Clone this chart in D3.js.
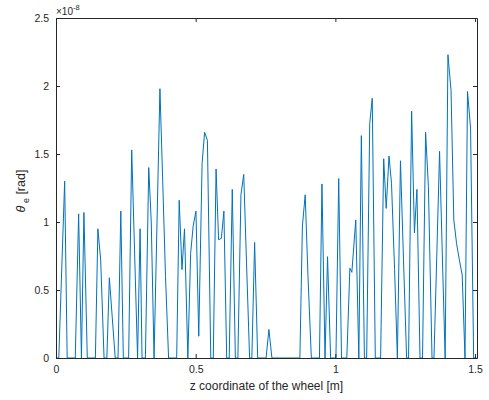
<!DOCTYPE html>
<html><head><meta charset="utf-8">
<script src="https://cdn.jsdelivr.net/npm/d3@7"></script>
<style>
html,body{margin:0;padding:0;background:#fff;}
text{font-family:"Liberation Sans",Arial,Helvetica,sans-serif;fill:#262626;}
</style></head>
<body><svg id="chart" width="489" height="400"></svg>
<script>
const zValues = [0,0.010,0.031,0.040,0.069,0.081,0.091,0.100,0.112,0.141,0.150,0.160,0.172,0.182,0.191,0.212,0.222,0.232,0.241,0.260,0.271,0.281,0.292,0.301,0.308,0.320,0.332,0.341,0.351,0.372,0.382,0.392,0.403,0.432,0.441,0.451,0.460,0.472,0.482,0.491,0.501,0.511,0.523,0.532,0.542,0.554,0.563,0.573,0.582,0.592,0.601,0.611,0.620,0.631,0.642,0.651,0.662,0.672,0.682,0.693,0.701,0.711,0.722,0.752,0.762,0.773,0.873,0.882,0.892,0.902,0.914,0.943,0.952,0.963,0.972,0.983,1.002,1.012,1.022,1.041,1.052,1.059,1.073,1.084,1.093,1.104,1.112,1.123,1.132,1.143,1.162,1.173,1.182,1.192,1.201,1.212,1.222,1.233,1.244,1.255,1.262,1.273,1.283,1.292,1.303,1.312,1.323,1.333,1.346,1.353,1.363,1.373,1.383,1.393,1.403,1.414,1.424,1.434,1.444,1.454,1.464,1.473,1.484,1.495,1.505];
// theta_e in units of 1e-8 rad
const thetaValues = [0,0,1.30,0,0,1.06,0,1.07,0,0,0.95,0.72,0,0,0.59,0,0,1.08,0,0,1.53,0.80,0,0.95,0,0,1.40,1.00,0,1.98,1.30,0.60,0,0,1.16,0.65,0.95,0,0.77,0.97,1.08,0.16,1.43,1.66,1.60,0,0,1.39,0.87,0.88,1.08,0,0,1.24,0,0,1.20,1.35,0.70,0,0,0.85,0,0,0.21,0,0,0.97,1.20,0.60,0,0,1.28,0,0.745,0,0,1.32,0,0,0.66,0.63,1.015,0,1.635,0,0,1.725,1.91,0,0,1.465,1.10,1.485,1.285,0.65,0,1.45,0.72,0,0,1.815,0.92,1.24,0,0,1.66,1.26,0,0,0.75,1.52,0.75,0,2.23,1.97,1.015,0.84,0.72,0.61,0,1.96,1.69,0,0];
const xTicks = [0,0.5,1,1.5];
const xTickLabels = ["0","0.5","1","1.5"];
const yTicks = [0,0.5,1,1.5,2,2.5];
const yTickLabels = ["0","0.5","1","1.5","2","2.5"];

const svg = d3.select("#chart");
const L=56, R=477, T=18, B=358;
const x = d3.scaleLinear().domain([0,1.507]).range([L,R]);
const y = d3.scaleLinear().domain([0,2.5]).range([B,T]);
const axCol = "#262626";

const data = zValues.map((z,i)=>[z,thetaValues[i]]);

// line
svg.append("path").datum(data)
  .attr("fill","none").attr("stroke","#0072BD").attr("stroke-width",1)
  .attr("stroke-linejoin","round")
  .attr("d", d3.line().x(d=>x(d[0])).y(d=>y(d[1])));

// axes
const fmtX = (d,i)=>xTickLabels[i];
const fmtY = (d,i)=>yTickLabels[i];
const gx = svg.append("g").attr("transform",`translate(0,${B})`)
  .call(d3.axisBottom(x).tickValues(xTicks).tickFormat(fmtX).tickSizeInner(-4).tickSizeOuter(0).tickPadding(8));
const gxt = svg.append("g").attr("transform",`translate(0,${T})`)
  .call(d3.axisTop(x).tickValues(xTicks).tickFormat("").tickSizeInner(-4).tickSizeOuter(0));
const gy = svg.append("g").attr("transform",`translate(${L},0)`)
  .call(d3.axisLeft(y).tickValues(yTicks).tickFormat(fmtY).tickSizeInner(-4).tickSizeOuter(0).tickPadding(7));
const gyr = svg.append("g").attr("transform",`translate(${R},0)`)
  .call(d3.axisRight(y).tickValues(yTicks).tickFormat("").tickSizeInner(-4).tickSizeOuter(0));
[gx,gxt,gy,gyr].forEach(g=>{
  g.select(".domain").attr("stroke",axCol).attr("stroke-width",1);
  g.selectAll(".tick line").attr("stroke",axCol);
  g.selectAll(".tick text").attr("fill",axCol).style("font-size","10.5px").style("font-family","'Liberation Sans',Arial,sans-serif");
});

// x label
svg.append("text").attr("x",(L+R)/2).attr("y",390).attr("text-anchor","middle")
  .style("font-size","12px").text("z coordinate of the wheel [m]");

// y label
const yl = svg.append("text").attr("transform",`translate(25,191) rotate(-90)`)
  .attr("text-anchor","middle").style("font-size","12.5px");
yl.append("tspan").style("font-style","italic").text("θ");
yl.append("tspan").attr("dy",4).style("font-size","9px").text(" e");
yl.append("tspan").attr("dy",-4).text(" [rad]");

// exponent
const ex = svg.append("text").attr("x",56).attr("y",15).style("font-size","10px");
ex.append("tspan").text("×10");
ex.append("tspan").attr("dy",-5).style("font-size","7.5px").text("-8");
</script></body></html>
